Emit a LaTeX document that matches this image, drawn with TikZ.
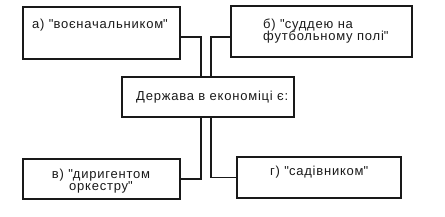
\documentclass[tikz,border=0pt]{standalone}
\usepackage{fontspec}
\setmainfont[LetterSpace=6]{Liberation Sans}
\usepackage{tikz}
\usetikzlibrary{positioning,calc}
\definecolor{inkc}{RGB}{25,25,25}
\newcommand{\qd}{\textquotedbl}

\begin{document}
\begin{tikzpicture}[x=1pt, y=-1pt,
  box/.style={draw=inkc, line width=1.1pt, inner sep=0pt},
  hub/.style={box, line width=2pt},
  lbl/.style={inner sep=0pt, text=inkc, font=\fontsize{13}{12.5}\selectfont},
  wire/.style={draw=inkc, line width=1.1pt},
]
\useasboundingbox (0,0) rectangle (445,217);

% ---- boxes ----
\node[box, minimum width=157pt, minimum height=52pt] (boxA) at (101.5,33) {};
\node[box, minimum width=181pt, minimum height=51pt] (boxB) at (321.5,31.5) {};
\node[hub, minimum width=172pt, minimum height=40pt] (hub) at (208,97) {};
\node[box, minimum width=157pt, minimum height=40pt] (boxC) at (101.5,179) {};
\node[box, minimum width=164pt, minimum height=41pt] (boxD) at (319,177.5) {};

% ---- texts ----
\node[lbl, anchor=base west] (tA) at (32,28) {а) \qd воєначальником\qd};
\node[lbl, anchor=base west, align=left] (tB) at (263,40.5) {б) \qd суддею на\\футбольному полі\qd};
\node[lbl, anchor=base west] (tHub) at (136,100) {Держава в економіці є:};
\node[lbl, anchor=base, align=center] (tC) at (101,190.5) {в) \qd диригентом\\оркестру\qd};
\node[lbl, anchor=base west] (tD) at (270,175) {г) \qd садівником\qd};

% ---- connectors ----
\draw[wire] ([yshift=-4pt]boxA.east) -| ([xshift=-7pt]hub.north);
\draw[wire] ([yshift=-5.5pt]boxB.west) -| ([xshift=3pt]hub.north);
\draw[wire] (boxC.east) -| ([xshift=-7pt]hub.south);
\draw[wire] (boxD.west) -| ([xshift=3pt]hub.south);

\end{tikzpicture}
\end{document}
